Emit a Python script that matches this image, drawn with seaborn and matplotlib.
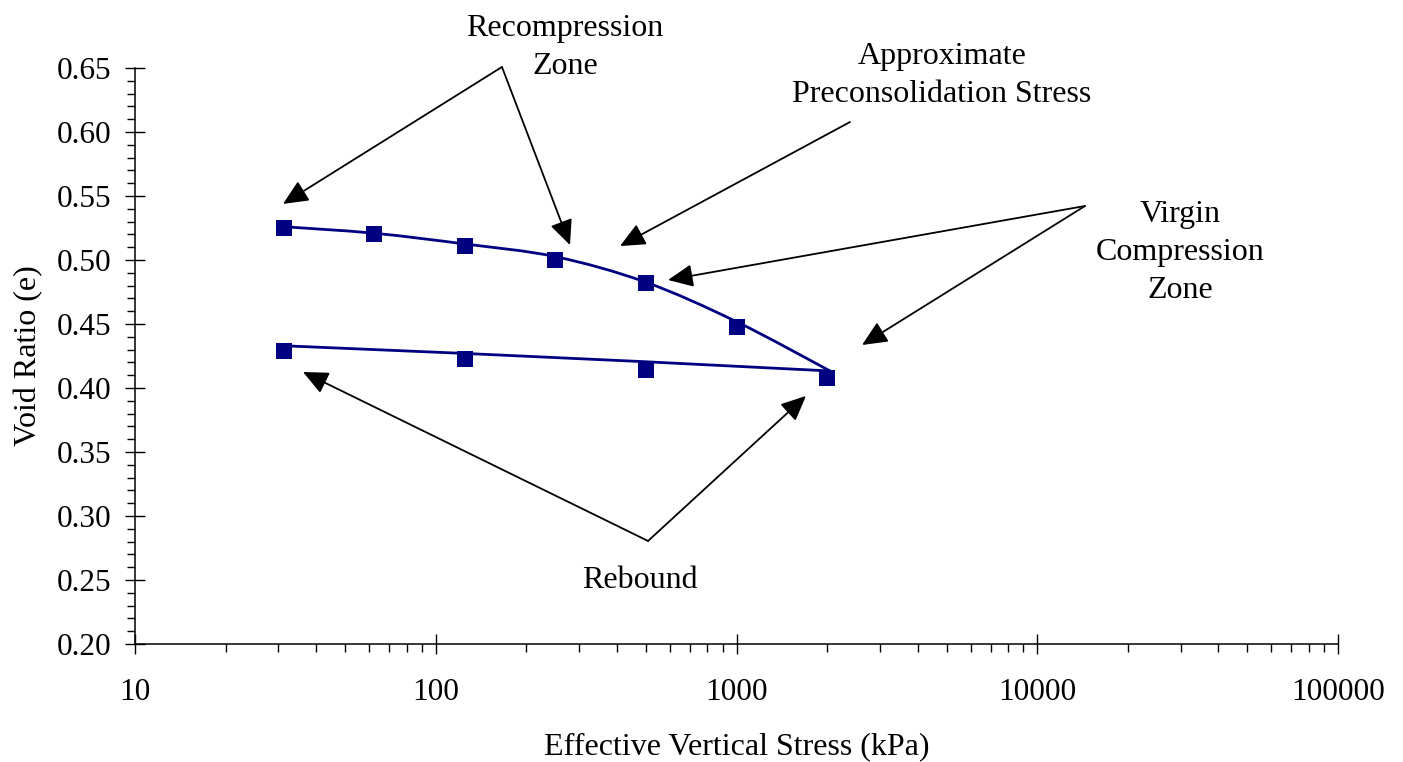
import numpy as np
import matplotlib
matplotlib.use("Agg")
import matplotlib.pyplot as plt
from matplotlib.path import Path
from matplotlib.patches import PathPatch
from matplotlib.ticker import FixedLocator, MultipleLocator, LogLocator, NullFormatter, FuncFormatter
import pandas as pd
import seaborn as sns

# Oedometer readings: loading and unloading stages
load_stress = [31.25, 62.5, 125, 250, 500, 1000, 2000]
load_void = [0.525, 0.520, 0.511, 0.500, 0.482, 0.448, 0.408]
unload_stress = [2000, 500, 125, 31.25]
unload_void = [0.408, 0.414, 0.423, 0.429]

# Smoothed fit curves for the two stages
load_fit_stress = [31.25, 62.5, 125, 250, 500, 1000, 2047]
load_fit_void = [0.5260, 0.5209, 0.5125, 0.5026, 0.4826, 0.4518, 0.4133]
unload_fit_stress = [31.25, 125, 500, 2047]
unload_fit_void = [0.4330, 0.4270, 0.4205, 0.4133]

x_ticks = [10, 100, 1000, 10000, 100000]
x_tick_labels = ["10", "100", "1000", "10000", "100000"]

NAVY = "#000080"


def smooth_curve(xs, ys):
    """Catmull-Rom curve through the points, built in log10(x) space."""
    lx = np.log10(np.asarray(xs, float))
    y = np.asarray(ys, float)
    pts = np.column_stack([lx, y])
    n = len(pts)
    verts = [pts[0]]
    codes = [Path.MOVETO]
    for i in range(n - 1):
        p0 = pts[max(i - 1, 0)]
        p1 = pts[i]
        p2 = pts[i + 1]
        p3 = pts[min(i + 2, n - 1)]
        c1 = p1 + (p2 - p0) / 6.0
        c2 = p2 - (p3 - p1) / 6.0
        verts += [c1, c2, p2]
        codes += [Path.CURVE4] * 3
    verts = np.array(verts)
    verts[:, 0] = 10 ** verts[:, 0]
    return Path(verts, codes)


sns.set_theme(style="ticks")
plt.rcParams["font.family"] = ["Liberation Serif", "DejaVu Serif"]
plt.rcParams["axes.linewidth"] = 1.1
plt.rcParams["text.color"] = "black"
plt.rcParams["axes.labelcolor"] = "black"

fig = plt.figure(figsize=(14.03, 7.62), dpi=100)
ax = fig.add_axes([135 / 1403, 1 - 644 / 762, 1203 / 1403, 576 / 762])

points = pd.concat([
    pd.DataFrame({"stress": load_stress, "void": load_void}),
    pd.DataFrame({"stress": unload_stress, "void": unload_void}),
])

ax.set_xscale("log")
ax.set_xlim(10, 100000)
ax.set_ylim(0.20, 0.65)

ax.add_patch(PathPatch(smooth_curve(load_fit_stress, load_fit_void), facecolor="none",
                       edgecolor=NAVY, lw=2.0, zorder=2))
sns.lineplot(x=unload_fit_stress, y=unload_fit_void, ax=ax, color=NAVY, lw=2.0,
             sort=False, estimator=None, zorder=2)
sns.scatterplot(data=points, x="stress", y="void", ax=ax, marker="s", s=118,
                color=NAVY, edgecolor=NAVY, linewidth=0, zorder=3)

ax.xaxis.set_major_locator(FixedLocator(x_ticks))
ax.xaxis.set_major_formatter(FuncFormatter(lambda v, p: x_tick_labels[x_ticks.index(int(round(v)))]
                                           if int(round(v)) in x_ticks else ""))
ax.xaxis.set_minor_locator(LogLocator(base=10, subs=range(2, 10), numticks=20))
ax.xaxis.set_minor_formatter(NullFormatter())
ax.yaxis.set_major_locator(MultipleLocator(0.05))
ax.yaxis.set_major_formatter(FuncFormatter(lambda v, p: f"{v:.2f}"))
ax.yaxis.set_minor_locator(MultipleLocator(0.01))

for s in ("top", "right"):
    ax.spines[s].set_visible(False)
for s in ("left", "bottom"):
    ax.spines[s].set_color("black")

ax.tick_params(which="major", direction="inout", length=13.7, width=1.0,
               colors="black", labelsize=22.5)
ax.tick_params(axis="x", which="major", pad=17.5)
ax.tick_params(axis="y", which="major", pad=10.5)
ax.tick_params(which="minor", direction="out", length=5.5, width=1.0, colors="black")

ax.set_xlabel("Effective Vertical Stress (kPa)", fontsize=23)
ax.set_ylabel("Void Ratio (e)", fontsize=23)
ax.xaxis.set_label_coords(0.5, -0.154)
ax.yaxis.set_label_coords(-0.0765, 0.5)

ax.grid(False)

# Callouts (anchored at the baseline of the last line)
label_kw = dict(fontsize=23, ha="center", va="baseline", linespacing=1.42,
                color="black", clip_on=False)
ax.text(269, 0.6453, "Recompression\nZone", **label_kw)
ax.text(4824, 0.6234, "Approximate\nPreconsolidation Stress", **label_kw)
ax.text(29830, 0.4703, "Virgin\nCompression\nZone", **label_kw)
ax.text(478, 0.2438, "Rebound", **label_kw)

arrow_kw = dict(arrowstyle="-|>,head_length=0.55,head_width=0.25", color="black",
                lw=1.3, shrinkA=0, shrinkB=0, mutation_scale=28)
callouts = [
    ((166, 0.6508), (31.05, 0.5438)),
    ((166, 0.6508), (279.5, 0.5117)),
    ((2384, 0.6078), (410, 0.5109)),
    ((14414, 0.5422), (592, 0.4844)),
    ((14414, 0.5422), (2615, 0.4336)),
    ((508, 0.2805), (36.2, 0.4125)),
    ((508, 0.2805), (1702, 0.3938)),
]
for tail, head in callouts:
    ax.annotate("", xy=head, xytext=tail, arrowprops=arrow_kw, annotation_clip=False)

fig.savefig("out.png", dpi=100)
